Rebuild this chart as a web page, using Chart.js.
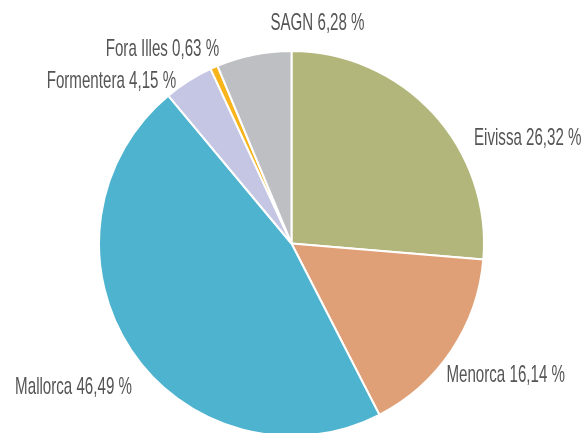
<!DOCTYPE html>
<html>
<head>
<meta charset="utf-8">
<script src="https://cdn.jsdelivr.net/npm/chart.js@4/dist/chart.umd.min.js"></script>
<style>
  html, body { margin: 0; padding: 0; background: #fff; overflow: hidden; }
  #wrap { width: 583px; height: 437px; position: relative; }
</style>
</head>
<body>
<div id="wrap"><canvas id="pie-chart"></canvas></div>
<script>
const categories = ["Eivissa", "Menorca", "Mallorca", "Formentera", "Fora Illes", "SAGN"];
const shares = [26.32, 16.14, 46.49, 4.15, 0.63, 6.28];
const sliceColors = ["#b2b67b", "#dfa077", "#4db3cf", "#c5c6e3", "#f7b41b", "#bebfc3"];

// label nudges from the default anchor (mid angle, just outside the rim)
const labelNudges = [[32, 31], [-15, 16], [11, 29], [-6, 9], [10, -9], [19, -21]];
const labelAlign = ["left", "left", "right", "right", "right", "left"];

const fmt = (v) => v.toFixed(2).replace(".", ",") + " %";

const outsideLabels = {
  id: "outsideLabels",
  afterDatasetsDraw(chart) {
    const ctx = chart.ctx;
    const arcs = chart.getDatasetMeta(0).data;
    ctx.save();
    ctx.fillStyle = "#555555";
    ctx.font = '24px "Liberation Sans", sans-serif';
    ctx.textBaseline = "alphabetic";
    arcs.forEach((arc, i) => {
      const mid = (arc.startAngle + arc.endAngle) / 2;
      const r = arc.outerRadius + 12;
      const x = arc.x + Math.cos(mid) * r + labelNudges[i][0];
      const y = arc.y + Math.sin(mid) * r + labelNudges[i][1];
      ctx.save();
      ctx.translate(x, y + 8.5);
      ctx.scale(0.63, 1);
      ctx.textAlign = labelAlign[i];
      ctx.fillText(categories[i] + " " + fmt(shares[i]), 0, 0);
      ctx.restore();
    });
    ctx.restore();
  },
};

new Chart(document.getElementById("pie-chart"), {
  type: "pie",
  data: {
    labels: categories,
    datasets: [{
      data: shares,
      backgroundColor: sliceColors,
      borderColor: "#ffffff",
      borderWidth: 2,
      hoverOffset: 0,
    }],
  },
  options: {
    responsive: true,
    maintainAspectRatio: false,
    animation: false,
    layout: { padding: { top: 50, bottom: 0, left: 0, right: 0 } },
    plugins: {
      legend: { display: false },
      tooltip: { enabled: false },
    },
  },
  plugins: [outsideLabels],
});
</script>
</body>
</html>
